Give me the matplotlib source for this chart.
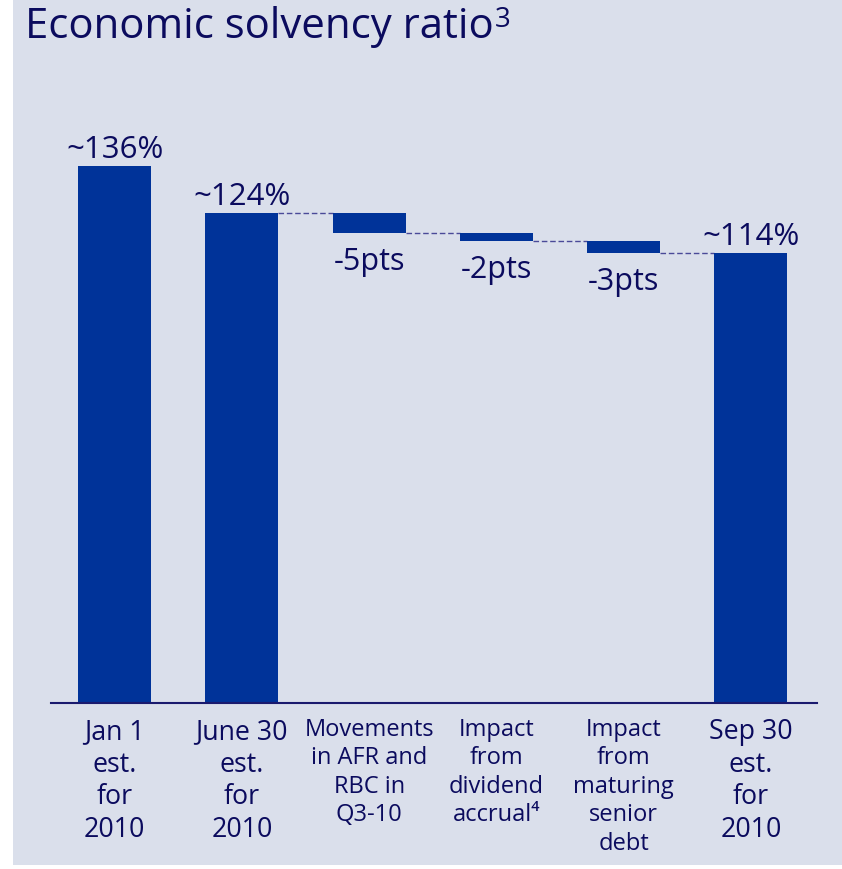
import matplotlib.pyplot as plt
from matplotlib.patches import Rectangle
import numpy as np

plt.rcParams['font.family'] = ['Open Sans', 'DejaVu Sans']

# Waterfall data: two starting totals, three movements, closing total
categories = [
    "Jan 1\nest.\nfor\n2010",
    "June 30\nest.\nfor\n2010",
    "Movements\nin AFR and\nRBC in\nQ3-10",
    "Impact\nfrom\ndividend\naccrual\u2074",
    "Impact\nfrom\nmaturing\nsenior\ndebt",
    "Sep 30\nest.\nfor\n2010",
]
values = [136, 124, -5, -2, -3, 114]
is_total = [True, True, False, False, False, True]
value_labels = ["~136%", "~124%", "-5pts", "-2pts", "-3pts", "~114%"]

BG = "#dadfeb"
BAR = "#003399"
TEXT = "#0b0b5e"
DASH = "#4a4a98"

fig = plt.figure(figsize=(8.42, 8.70), dpi=100)
fig.patch.set_facecolor("white")
W, H = 842, 870
fig.patches.append(Rectangle((13 / W, 4 / H), 1 - 13 / W, 1 - 4 / H,
                             transform=fig.transFigure, facecolor=BG,
                             edgecolor="none", zorder=-10))

# axes placed in pixel terms: baseline at y=704, 3.95 px per point of ratio
ymax = 150
ax_h = ymax * 3.95
ax = fig.add_axes([51 / W, (H - 704) / H, (817 - 51) / W, ax_h / H])
ax.set_facecolor("none")
ax.set_xlim(-0.5, 5.52)
ax.set_ylim(0, ymax)

x = np.arange(len(values))
width = 0.574

# compute bar bottoms and heights
bottoms = []
heights = []
running = 0
for v, tot in zip(values, is_total):
    if tot:
        bottoms.append(0)
        heights.append(v)
        running = v
    else:
        bottoms.append(running + v)
        heights.append(-v)
        running = running + v
bottoms = np.array(bottoms)
heights = np.array(heights)

ax.bar(x, heights, bottom=bottoms, width=width, color=BAR, zorder=3)

# dashed connectors from June 30 onwards
for i in range(1, len(values) - 1):
    level = bottoms[i] if not is_total[i] else bottoms[i] + heights[i]
    ax.plot([x[i] + width / 2, x[i + 1] - width / 2], [level, level],
            ls=(0, (4, 2)), lw=1, color=DASH, zorder=2)

# value labels
for i, lab in enumerate(value_labels):
    if is_total[i]:
        ax.annotate(lab, (x[i], bottoms[i] + heights[i]), xytext=(0, 9),
                    textcoords="offset pixels", ha="center", va="baseline",
                    fontsize=22.5, color=TEXT)
    else:
        ax.annotate(lab, (x[i], bottoms[i]), xytext=(0, -36),
                    textcoords="offset pixels", ha="center", va="baseline",
                    fontsize=22, color=TEXT)

ax.set_xticks(x, categories)
ax.tick_params(axis="x", length=0, pad=10, colors=TEXT)
ax.set_yticks([])
for i, t in enumerate(ax.get_xticklabels()):
    t.set_fontsize(19.3 if is_total[i] else 17)
    t.set_linespacing(1.22 if is_total[i] else 1.25)
    t.set_color(TEXT)

for side in ["top", "right", "left"]:
    ax.spines[side].set_visible(False)
ax.spines["bottom"].set_color("#1a1a6e")
ax.spines["bottom"].set_linewidth(1.5)
ax.spines["bottom"].set_zorder(4)

title = fig.text(25 / W, (H - 38.3) / H, "Economic solvency ratio",
                 fontsize=30.2, color=TEXT, ha="left", va="baseline")
ax.annotate("3", xy=(1, 1), xycoords=title, xytext=(1, 0),
            textcoords="offset pixels", ha="left", va="top",
            fontsize=20, color=TEXT, annotation_clip=False)

fig.savefig("out.png", dpi=100, facecolor=fig.get_facecolor())
